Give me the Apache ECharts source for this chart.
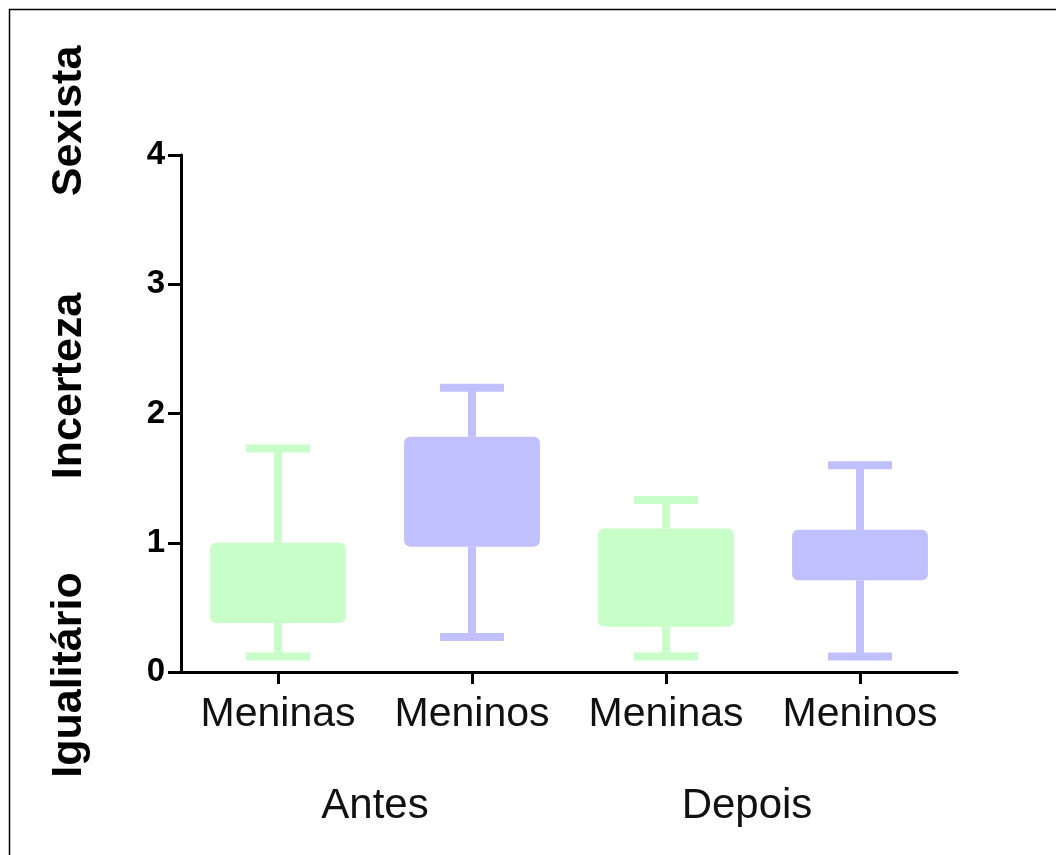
<!DOCTYPE html>
<html>
<head>
<meta charset="utf-8">
<script src="https://cdn.jsdelivr.net/npm/echarts@6/dist/echarts.min.js"></script>
<style>
  html, body { margin: 0; padding: 0; background: #fff; }
  #chart { width: 1056px; height: 855px; }
</style>
</head>
<body>
<div id="chart"></div>
<script>
// Categories and group labels
const categories = ['Meninas', 'Meninos', 'Meninas', 'Meninos'];
const groupLabels = ['Antes', 'Depois'];
const scaleLabels = ['Sexista', 'Incerteza', 'Igualitário'];
const yTicks = [0, 1, 2, 3, 4];

// Box statistics per category
const whiskerMin = [0.12, 0.27, 0.12, 0.12];
const boxLow     = [0.38, 0.97, 0.35, 0.71];
const boxHigh    = [1.00, 1.82, 1.11, 1.10];
const whiskerMax = [1.73, 2.20, 1.33, 1.60];

const colors = ['#C8FFC8', '#C0C0FF', '#C8FFC8', '#C0C0FF'];

const data = categories.map((c, i) => ({
  value: [i, whiskerMin[i], boxLow[i], boxHigh[i], whiskerMax[i]],
  itemStyle: { color: colors[i] }
}));

const FONT = "'Liberation Sans', Arial, Helvetica, sans-serif";

const chart = echarts.init(document.getElementById('chart'), null, { renderer: 'canvas' });

function renderItem(params, api) {
  const idx = api.value(0);
  const pMin = api.coord([idx, api.value(1)]);
  const pQ1 = api.coord([idx, api.value(2)]);
  const pQ3 = api.coord([idx, api.value(3)]);
  const pMax = api.coord([idx, api.value(4)]);
  const band = api.size([1, 0])[0];
  const boxW = band * 0.70;
  const capW = band * 0.33;
  const lw = 8;
  const capH = 8;
  const x = pMin[0];
  const color = api.visual('color');
  const style = { fill: color, stroke: null };
  return {
    type: 'group',
    children: [
      { type: 'rect', shape: { x: x - lw / 2, y: pMax[1], width: lw, height: pQ3[1] - pMax[1] }, style: style },
      { type: 'rect', shape: { x: x - lw / 2, y: pQ1[1], width: lw, height: pMin[1] - pQ1[1] }, style: style },
      { type: 'rect', shape: { x: x - capW / 2, y: pMax[1] - capH / 2, width: capW, height: capH }, style: style },
      { type: 'rect', shape: { x: x - capW / 2, y: pMin[1] - capH / 2, width: capW, height: capH }, style: style },
      { type: 'rect', shape: { x: x - boxW / 2, y: pQ3[1], width: boxW, height: pQ1[1] - pQ3[1], r: 6 }, style: style }
    ]
  };
}

const option = {
  backgroundColor: '#ffffff',
  animation: false,
  grid: { left: 181, right: 99, top: 155, bottom: 183, containLabel: false },
  xAxis: {
    type: 'category',
    data: categories,
    boundaryGap: true,
    axisLine: { show: true, lineStyle: { color: '#000', width: 3 } },
    axisTick: { show: true, alignWithLabel: true, interval: 0, length: 12, lineStyle: { color: '#000', width: 3 } },
    axisLabel: { color: '#111', fontSize: 41, fontFamily: FONT, margin: 22, interval: 0 },
    splitLine: { show: false }
  },
  yAxis: {
    type: 'value',
    min: 0,
    max: 4,
    interval: 1,
    axisLine: { show: true, onZero: false, lineStyle: { color: '#000', width: 3 } },
    axisTick: { show: true, length: 13, lineStyle: { color: '#000', width: 3 } },
    axisLabel: {
      color: '#000', fontSize: 33, fontWeight: 'bold', fontFamily: FONT, margin: 16,
      formatter: v => yTicks.includes(v) ? String(v) : ''
    },
    splitLine: { show: false }
  },
  series: [{
    type: 'custom',
    renderItem: renderItem,
    encode: { x: 0, y: [1, 2, 3, 4] },
    data: data
  }],
  graphic: [
    { type: 'rect', silent: true, shape: { x: 9.5, y: 9.5, width: 1100, height: 900 },
      style: { fill: null, stroke: '#000', lineWidth: 1.5 } },
    { type: 'text', x: 69, y: 121, rotation: Math.PI / 2,
      style: { text: scaleLabels[0], font: 'bold 43px ' + FONT, fill: '#000', align: 'center', verticalAlign: 'middle' } },
    { type: 'text', x: 69, y: 386, rotation: Math.PI / 2,
      style: { text: scaleLabels[1], font: 'bold 43px ' + FONT, fill: '#000', align: 'center', verticalAlign: 'middle' } },
    { type: 'text', x: 69, y: 675, rotation: Math.PI / 2,
      style: { text: scaleLabels[2], font: 'bold 43px ' + FONT, fill: '#000', align: 'center', verticalAlign: 'middle' } },
    { type: 'text', x: 375, y: 806,
      style: { text: groupLabels[0], font: '42px ' + FONT, fill: '#111', align: 'center', verticalAlign: 'middle' } },
    { type: 'text', x: 747, y: 806,
      style: { text: groupLabels[1], font: '42px ' + FONT, fill: '#111', align: 'center', verticalAlign: 'middle' } }
  ]
};

chart.setOption(option);
</script>
</body>
</html>
